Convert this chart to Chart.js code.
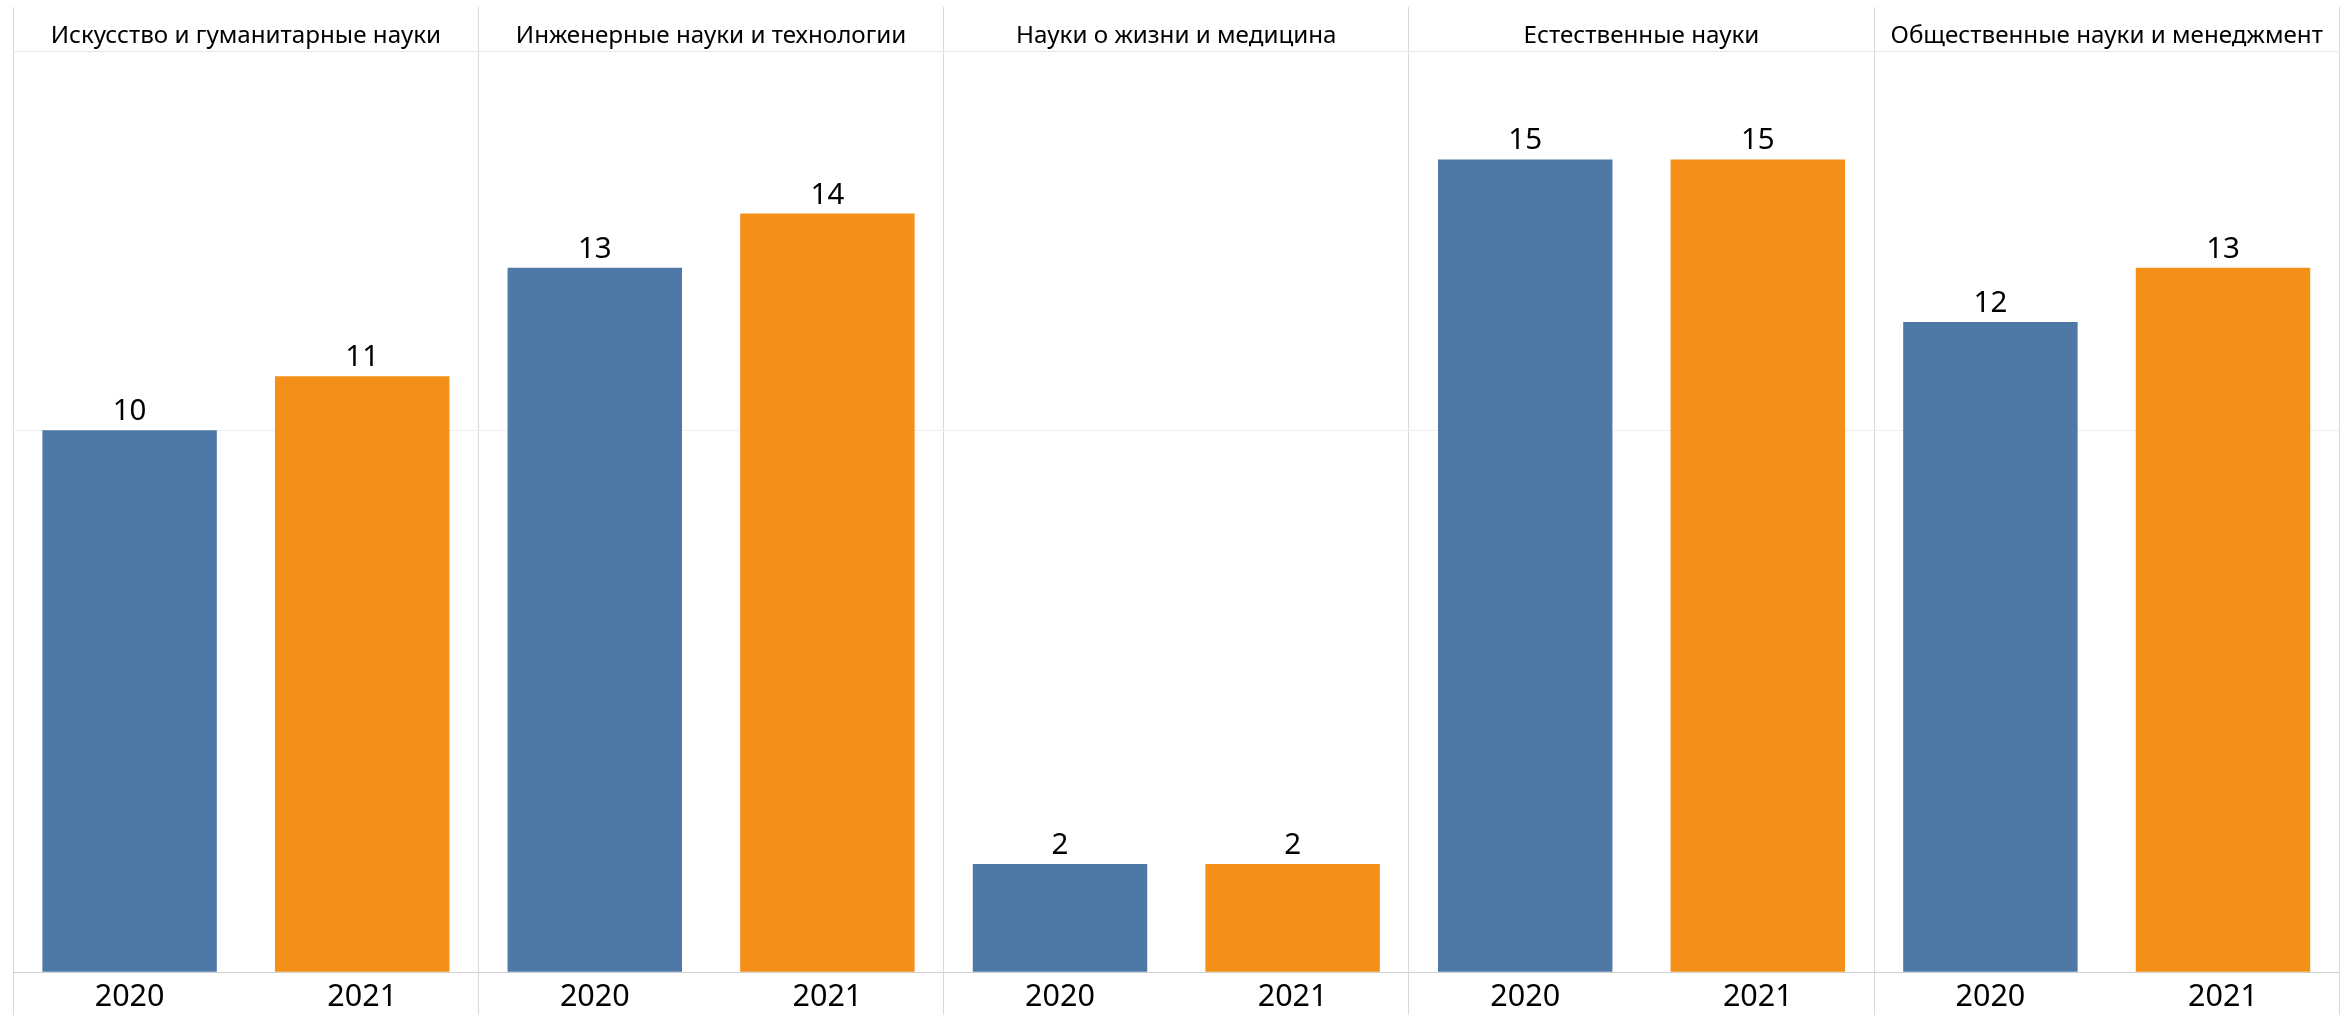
<!DOCTYPE html>
<html lang="ru">
<head>
    <meta charset="UTF-8">
    <title>Публикации по областям знаний, 2020–2021</title>
    <script src="https://cdn.jsdelivr.net/npm/chart.js@4"></script>
    <style>
        html, body {
            margin: 0;
            padding: 0;
            background: #fff;
        }
        .chart-box {
            width: 2349px;
            height: 1015px;
        }
    </style>
</head>
<body>
    <div class="chart-box">
        <canvas id="chart"></canvas>
    </div>

    <script>
        // Data
        const categories = [
            'Искусство и гуманитарные науки',
            'Инженерные науки и технологии',
            'Науки о жизни и медицина',
            'Естественные науки',
            'Общественные науки и менеджмент'
        ];
        const years = ['2020', '2021'];
        const values2020 = [10, 13, 2, 15, 12];
        const values2021 = [11, 14, 2, 15, 13];

        const BLUE = '#4e79a7';
        const ORANGE = '#f48f17';
        const DIVIDER = '#d9d9d9';

        // Flatten: each category gets a 2020 bar and a 2021 bar
        const yearLabels = [];
        const values = [];
        const colors = [];
        categories.forEach((c, i) => {
            yearLabels.push(years[0], years[1]);
            values.push(values2020[i], values2021[i]);
            colors.push(BLUE, ORANGE);
        });

        // Value labels above the bars
        const barLabels = {
            id: 'barLabels',
            afterDatasetsDraw(chart) {
                const ctx = chart.ctx;
                const meta = chart.getDatasetMeta(0);
                ctx.save();
                ctx.font = '29.5px "Noto Sans"';
                ctx.fillStyle = '#000';
                ctx.textAlign = 'center';
                ctx.textBaseline = 'alphabetic';
                meta.data.forEach((bar, i) => {
                    ctx.fillText(chart.data.datasets[0].data[i], bar.x, bar.y - 10);
                });
                ctx.restore();
            }
        };

        new Chart(document.getElementById('chart'), {
            type: 'bar',
            data: {
                labels: yearLabels,
                datasets: [{
                    data: values,
                    backgroundColor: colors,
                    borderWidth: 0,
                    categoryPercentage: 1,
                    barPercentage: 0.75
                }]
            },
            plugins: [barLabels],
            options: {
                responsive: true,
                maintainAspectRatio: false,
                animation: false,
                layout: {
                    padding: { left: 13.3, right: 9.7, top: 0, bottom: 0 }
                },
                plugins: {
                    legend: { display: false },
                    tooltip: { enabled: false }
                },
                scales: {
                    x: {
                        position: 'bottom',
                        offset: true,
                        afterFit: s => { s.height = 42.7; },
                        grid: {
                            offset: true,
                            drawOnChartArea: false,
                            tickLength: 43,
                            color: c => (c.index === undefined || c.index % 2 === 0) ? DIVIDER : 'rgba(0,0,0,0)'
                        },
                        border: { display: true, color: '#d0d0d0' },
                        ticks: {
                            padding: -36,
                            color: '#000',
                            font: { family: 'Noto Sans', size: 30.5 },
                            maxRotation: 0,
                            autoSkip: false
                        }
                    },
                    x2: {
                        type: 'category',
                        position: 'top',
                        labels: categories,
                        offset: true,
                        afterFit: s => { s.height = 51; },
                        grid: {
                            offset: true,
                            drawOnChartArea: true,
                            tickLength: 44,
                            color: DIVIDER
                        },
                        border: { display: true, color: '#e6e6e6' },
                        ticks: {
                            padding: -43.8,
                            color: '#000',
                            font: { family: 'Noto Sans', size: 24.2 },
                            maxRotation: 0,
                            autoSkip: false
                        }
                    },
                    y: {
                        min: 0,
                        max: 17,
                        afterFit: s => { s.width = 0; },
                        ticks: { display: false, stepSize: 10 },
                        border: { display: false },
                        grid: {
                            drawTicks: false,
                            color: c => c.tick.value === 10 ? '#efefef' : 'rgba(0,0,0,0)'
                        }
                    }
                }
            }
        });
    </script>
</body>
</html>
